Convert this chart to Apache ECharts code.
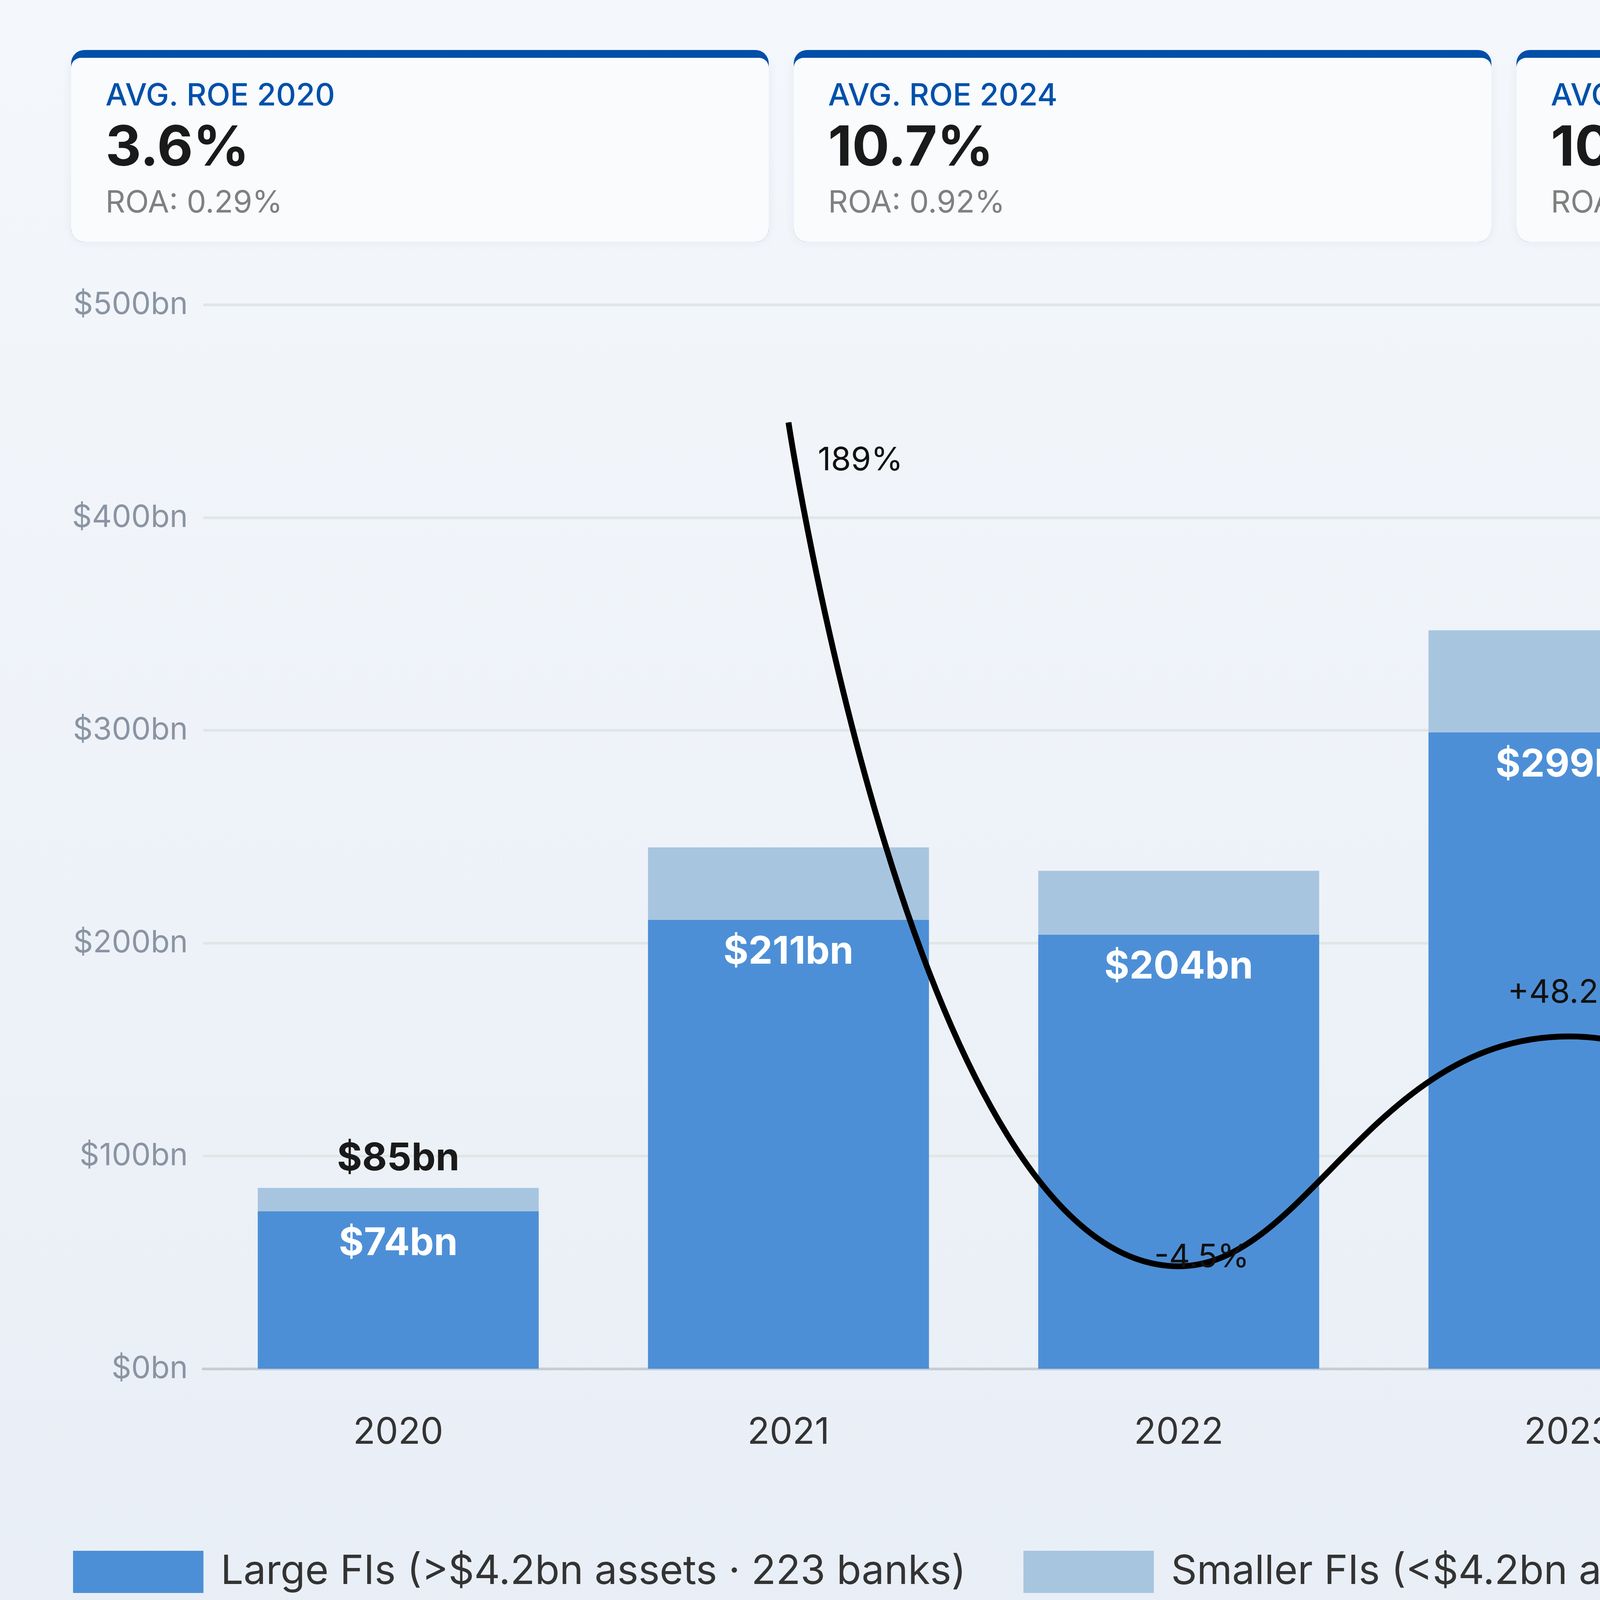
<!DOCTYPE html>
<html>
<head>
<meta charset="utf-8">
<script src="https://cdn.jsdelivr.net/npm/echarts@6/dist/echarts.min.js"></script>
<style>
  html, body { margin: 0; padding: 0; }
  #main { width: 7695px; height: 4320px; background: linear-gradient(#f4f7fb, #e8eef6); }
</style>
</head>
<body>
<div id="main"></div>
<script>
var years = ['2020', '2021', '2022', '2023', '2024', '2025', '2026e'];
var largeFIs = [74, 211, 204, 299, 293, 325, 355];
var smallerFIs = [11, 34, 30, 48, 44, 49, 53];
var yoyGrowth = [null, 189, -4.5, 48.2, -3.0, 11.1, 9.0];
var yoyLabels = ['', '189%', '-4.5%', '+48.2%', '-3.0%', '+11.1%', '+9.0%'];
var cardTitles = ['AVG. ROE 2020', 'AVG. ROE 2024', 'AVG. ROE 2025', 'AVG. ROE 2026E'];
var cardValues = ['3.6%', '10.7%', '10.5%', '10.2\u201310.5%'];
var cardSubs = ['ROA: 0.29%', 'ROA: 0.92%', 'ROA: 0.87%', 'ROA: 0.82\u20130.86%'];

var k = 7695 / 1568;
function S(v) { return Math.round(v * k); }
var FONT = 'Inter, "Noto Sans", sans-serif';
var BLUE = '#4d8fd6', LIGHT = '#a8c5e0', GOLD = '#ffc300', LIGHTGOLD = '#fde084', DARKGOLD = '#7d5f00';
var last = years.length - 1;

var chart = echarts.init(document.getElementById('main'));

// KPI cards
var cardX = [37, 414, 791, 1167];
var graphics = [];
cardX.forEach(function (x, i) {
    var accent = i === 3 ? GOLD : '#0050aa';
    var tcol = i === 3 ? DARKGOLD : '#0050aa';
    graphics.push({
        type: 'group', left: S(x), top: S(26),
        children: [
            { type: 'rect', shape: { x: 0, y: 0, width: S(364), height: S(100), r: S(7) },
              style: { fill: accent } },
            { type: 'rect', shape: { x: 0, y: S(4), width: S(364), height: S(96), r: [S(5), S(5), S(7), S(7)] },
              style: { fill: '#f9fbfd', shadowBlur: S(6), shadowColor: 'rgba(0,30,80,0.06)' } },
            { type: 'text', x: S(18), y: S(16),
              style: { text: cardTitles[i], fill: tcol, font: '500 ' + S(16) + 'px ' + FONT } },
            { type: 'text', x: S(18), y: S(37),
              style: { text: cardValues[i], fill: '#1a1a1a', font: 'bold ' + S(29) + 'px ' + FONT } },
            { type: 'text', x: S(18), y: S(72),
              style: { text: cardSubs[i], fill: '#808080', font: S(16) + 'px ' + FONT } }
        ]
    });
});
graphics.push({
    type: 'text', left: S(37), top: S(841),
    style: { text: 'Source: TABInsights  \u00b7  34 European countries excl. Russia, Ukraine, Turkey, Armenia and Georgia',
             fill: '#8a8f98', font: 'italic ' + S(15) + 'px ' + FONT }
});

var option = {
    animation: false,
    textStyle: { fontFamily: FONT },
    graphic: graphics,
    grid: { left: S(106), right: S(37), top: S(159), bottom: 4320 - S(714) },
    legend: {
        left: S(37), top: S(808),
        itemWidth: S(68), itemHeight: S(22), itemGap: S(30),
        textStyle: { fontSize: S(21), color: '#333', fontFamily: FONT, padding: [0, 0, 0, S(8)] },
        data: [
            { name: 'Large FIs (>$4.2bn assets \u00b7 223 banks)', icon: 'path://M0,0 L68,0 L68,22 L0,22 Z' },
            { name: 'Smaller FIs (<$4.2bn assets \u00b7 ~1,350 banks)', icon: 'path://M0,0 L68,0 L68,22 L0,22 Z' },
            { name: 'YoY growth', icon: 'path://M0,0 L40,0 L40,4 L0,4 Z' }
        ]
    },
    xAxis: {
        type: 'category', data: years,
        axisTick: { show: false },
        axisLine: { lineStyle: { color: '#c8cdd4', width: S(1.5) } },
        axisLabel: { fontSize: S(19), color: '#333', margin: S(24) }
    },
    yAxis: [{
        type: 'value', min: 0, max: 500, interval: 100,
        axisLabel: { formatter: '${value}bn', fontSize: S(16), color: '#8a94a3', margin: S(8) },
        splitLine: { lineStyle: { color: '#dfe7e6', width: S(1.5) } }
    }, {
        type: 'value', min: -28, max: 216, show: false, splitLine: { show: false }
    }],
    series: [{
        name: 'Large FIs (>$4.2bn assets \u00b7 223 banks)', type: 'bar', stack: 'a',
        barWidth: '72%', itemStyle: { color: BLUE },
        data: largeFIs.map(function (v, i) {
            return {
                value: v,
                itemStyle: { color: i === last ? GOLD : BLUE },
                label: { color: i === last ? DARKGOLD : '#fff' }
            };
        }),
        label: {
            show: true, position: 'insideTop', distance: S(7),
            formatter: '${c}bn', fontSize: S(20), fontWeight: 'bold'
        }
    }, {
        name: 'Smaller FIs (<$4.2bn assets \u00b7 ~1,350 banks)', type: 'bar', stack: 'a',
        itemStyle: { color: LIGHT },
        data: smallerFIs.map(function (v, i) {
            var showTotal = i === 0 || i === last;
            return {
                value: v,
                itemStyle: { color: i === last ? LIGHTGOLD : LIGHT },
                label: {
                    show: showTotal,
                    formatter: '$' + (largeFIs[i] + v) + 'bn',
                    color: i === last ? DARKGOLD : '#1a1a1a'
                }
            };
        }),
        label: { position: 'top', distance: S(5), fontSize: S(20), fontWeight: 'bold' }
    }, {
        name: 'YoY growth', type: 'line', yAxisIndex: 1, smooth: 0.5,
        symbol: 'circle', symbolSize: 2, showSymbol: true,
        itemStyle: { color: '#000' },
        lineStyle: { color: '#000', width: S(3) },
        data: yoyGrowth.map(function (v, i) {
            var lab = { show: v !== null, formatter: yoyLabels[i] };
            if (i === 1) { lab.position = 'right'; lab.offset = [S(14), S(20)]; }
            else if (i === 2 || i === 4) { lab.position = 'top'; lab.offset = [S(12), S(5)]; }
            else { lab.position = 'top'; lab.distance = S(14); }
            return { value: v, label: lab };
        }),
        label: { fontSize: S(17), color: '#111' }
    }]
};
chart.setOption(option);
window.addEventListener('resize', chart.resize);
</script>
</body>
</html>
